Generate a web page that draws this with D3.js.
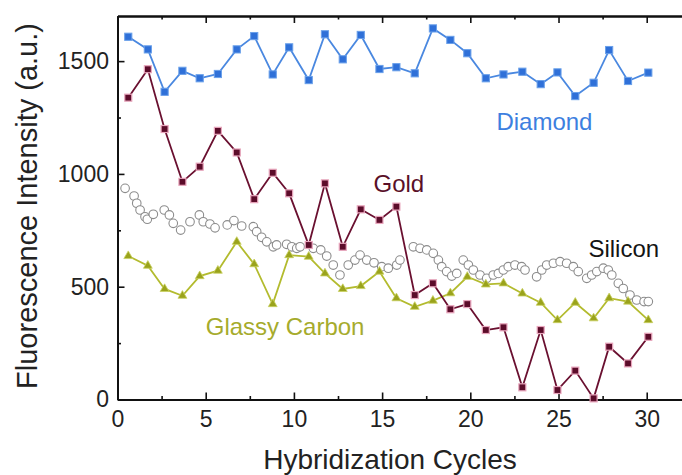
<!DOCTYPE html>
<html>
<head>
<meta charset="utf-8">
<script src="https://cdn.jsdelivr.net/npm/d3@7"></script>
<style>
  html, body { margin: 0; padding: 0; background: #fff; }
  svg { display: block; font-family: "Liberation Sans", Arial, sans-serif; }
</style>
</head>
<body>
<svg id="chart" width="682" height="475"></svg>
<script>
// ---- data ----
const cycles = [0.61, 1.72, 2.67, 3.68, 4.66, 5.69, 6.76, 7.75, 8.80, 9.73,
                10.84, 11.76, 12.77, 13.79, 14.85, 15.81, 16.85, 17.88, 18.87, 19.83,
                20.88, 21.88, 22.95, 23.99, 24.94, 25.95, 26.99, 27.87, 28.94, 30.09];
const diamond = [1608, 1552, 1364, 1457, 1424, 1443, 1552, 1611, 1441, 1561,
                 1416, 1619, 1508, 1616, 1465, 1473, 1446, 1645, 1594, 1535,
                 1424, 1441, 1453, 1398, 1450, 1345, 1404, 1549, 1412, 1449];
const gold = [1338, 1464, 1199, 965, 1032, 1191, 1095, 888, 1005, 914,
              685, 958, 677, 843, 796, 855, 463, 515, 400, 423,
              308, 320, 54, 308, 42, 128, 5, 234, 160, 278];
const glassy = [636, 593, 490, 460, 547, 571, 699, 600, 423, 640,
                633, 559, 490, 503, 567, 449, 411, 438, 471, 544,
                510, 515, 470, 429, 352, 429, 360, 449, 434, 352];
const siliconX = [0.43, 0.94, 1.09, 1.28, 1.56, 1.69, 2.03, 2.65, 2.94, 3.16,
                  3.58, 4.11, 4.64, 4.86, 5.24, 5.53, 6.22, 6.60, 7.04, 7.70,
                  7.89, 8.17, 8.46, 8.83, 9.02, 9.59, 9.88, 10.16, 10.35, 11.10,
                  11.52, 11.86, 12.23, 12.61, 13.08, 13.46, 13.75, 14.13, 14.54, 14.98,
                  15.35, 15.83, 16.01, 16.77, 17.15, 17.53, 17.90, 18.19, 18.38, 18.66,
                  18.95, 19.23, 19.60, 19.89, 20.17, 20.55, 20.93, 21.30, 21.59, 21.87,
                  22.15, 22.53, 22.91, 23.10, 23.76, 24.05, 24.33, 24.71, 25.09, 25.46,
                  25.84, 26.12, 26.60, 26.88, 27.17, 27.54, 27.82, 28.02, 28.39, 28.67,
                  29.05, 29.43, 29.85, 30.09];
const silicon = [936, 902, 870, 840, 810, 799, 821, 840, 818, 781,
                 751, 788, 818, 788, 778, 761, 774, 793, 769, 766,
                 744, 719, 699, 677, 685, 688, 677, 670, 677, 670,
                 663, 636, 596, 552, 596, 618, 640, 618, 606, 589,
                 582, 596, 618, 677, 670, 663, 648, 618, 589, 567,
                 547, 559, 618, 596, 574, 552, 537, 552, 559, 574,
                 589, 596, 589, 574, 544, 574, 596, 604, 611, 604,
                 589, 567, 537, 552, 567, 582, 574, 552, 515, 492,
                 463, 441, 434, 434];
const xMajorTicks = [0, 5, 10, 15, 20, 25, 30];
const xMinorTicks = [2.5, 7.5, 12.5, 17.5, 22.5, 27.5];
const yMajorTicks = [0, 500, 1000, 1500];
const yMinorTicks = [250, 750, 1250];
const seriesLabels = [
  { text: "Diamond", x: 24.2, y: 1195, color: "#3d7fe0" },
  { text: "Gold", x: 15.95, y: 920, color: "#5a1028" },
  { text: "Silicon", x: 28.7, y: 630, color: "#141414" },
  { text: "Glassy Carbon", x: 9.5, y: 285, color: "#a6ab2c" }
];
const xTitle = "Hybridization Cycles";
const yTitle = "Fluorescence Intensity (a.u.)";

// ---- layout ----
const svg = d3.select("#chart");
const x = d3.scaleLinear().domain([0, 32]).range([117.5, 682]);
const y = d3.scaleLinear().domain([0, 1700]).range([399.5, 16]);
const fmt = d3.format("d");

// axes
function styleAxis(g) {
  g.select(".domain").attr("stroke", "#111").attr("stroke-width", 2);
  g.selectAll(".tick line").attr("stroke", "#111").attr("stroke-width", 1.6);
  g.selectAll(".tick text").attr("fill", "#222").attr("font-size", 23)
    .attr("font-family", '"Liberation Sans", Arial, sans-serif');
}
svg.append("g").attr("transform", `translate(0,${y(0)})`)
  .call(d3.axisBottom(x).tickValues(xMajorTicks).tickSize(-7).tickSizeOuter(0).tickPadding(11).tickFormat(fmt))
  .call(styleAxis);
svg.append("g").attr("transform", `translate(0,${y(0)})`)
  .call(d3.axisBottom(x).tickValues(xMinorTicks).tickSize(-3.5).tickSizeOuter(0).tickFormat(""))
  .call(styleAxis);
svg.append("g").attr("transform", `translate(0,${y(1700)})`)
  .call(d3.axisTop(x).tickValues(xMajorTicks).tickSize(-7).tickSizeOuter(0).tickFormat(""))
  .call(styleAxis);
svg.append("g").attr("transform", `translate(0,${y(1700)})`)
  .call(d3.axisTop(x).tickValues(xMinorTicks).tickSize(-3.5).tickSizeOuter(0).tickFormat(""))
  .call(styleAxis);
svg.append("g").attr("transform", `translate(${x(0)},0)`)
  .call(d3.axisLeft(y).tickValues(yMajorTicks).tickSize(-7).tickSizeOuter(0).tickPadding(8.5).tickFormat(fmt))
  .call(styleAxis);
svg.append("g").attr("transform", `translate(${x(0)},0)`)
  .call(d3.axisLeft(y).tickValues(yMinorTicks).tickSize(-3.5).tickSizeOuter(0).tickFormat(""))
  .call(styleAxis);

// titles
svg.append("text").attr("x", 390).attr("y", 469).attr("text-anchor", "middle")
  .attr("font-size", 28).attr("fill", "#222").text(xTitle);
svg.append("text").attr("transform", "translate(37,206) rotate(-90)").attr("text-anchor", "middle")
  .attr("font-size", 29).attr("fill", "#222").text(yTitle);

// silicon (open circles)
svg.append("g").selectAll("circle").data(silicon).join("circle")
  .attr("cx", (d, i) => x(siliconX[i])).attr("cy", d => y(d)).attr("r", 4.3)
  .attr("fill", "#fff").attr("stroke", "#8c8c8c").attr("stroke-width", 1.1);

const line = d3.line().x((d, i) => x(cycles[i])).y(d => y(d));

// glassy carbon
svg.append("path").datum(glassy).attr("d", line).attr("fill", "none")
  .attr("stroke", "#b3bb2e").attr("stroke-width", 1.8);
const tri = d3.symbol().type(d3.symbolTriangle).size(34);
svg.append("g").selectAll("path").data(glassy).join("path")
  .attr("d", tri).attr("transform", (d, i) => `translate(${x(cycles[i])},${y(d)})`)
  .attr("fill", "#9aa31c").attr("stroke", "#c9d060").attr("stroke-width", 0.8);

// gold
svg.append("path").datum(gold).attr("d", line).attr("fill", "none")
  .attr("stroke", "#6a1030").attr("stroke-width", 1.8);
svg.append("g").selectAll("rect").data(gold).join("rect")
  .attr("x", (d, i) => x(cycles[i]) - 3.5).attr("y", d => y(d) - 3.5)
  .attr("width", 7).attr("height", 7)
  .attr("fill", "#5c0c2a").attr("stroke", "#e9a6bd").attr("stroke-width", 1.2);

// diamond
svg.append("path").datum(diamond).attr("d", line).attr("fill", "none")
  .attr("stroke", "#4a88e0").attr("stroke-width", 1.8);
svg.append("g").selectAll("rect").data(diamond).join("rect")
  .attr("x", (d, i) => x(cycles[i]) - 3.6).attr("y", d => y(d) - 3.6)
  .attr("width", 7.2).attr("height", 7.2)
  .attr("fill", "#2f70d8").attr("stroke", "#6aa0ea").attr("stroke-width", 1);

// series labels
svg.append("g").selectAll("text").data(seriesLabels).join("text")
  .attr("x", d => x(d.x)).attr("y", d => y(d.y)).attr("text-anchor", "middle")
  .attr("font-size", 24).attr("fill", d => d.color).text(d => d.text);
</script>
</body>
</html>
